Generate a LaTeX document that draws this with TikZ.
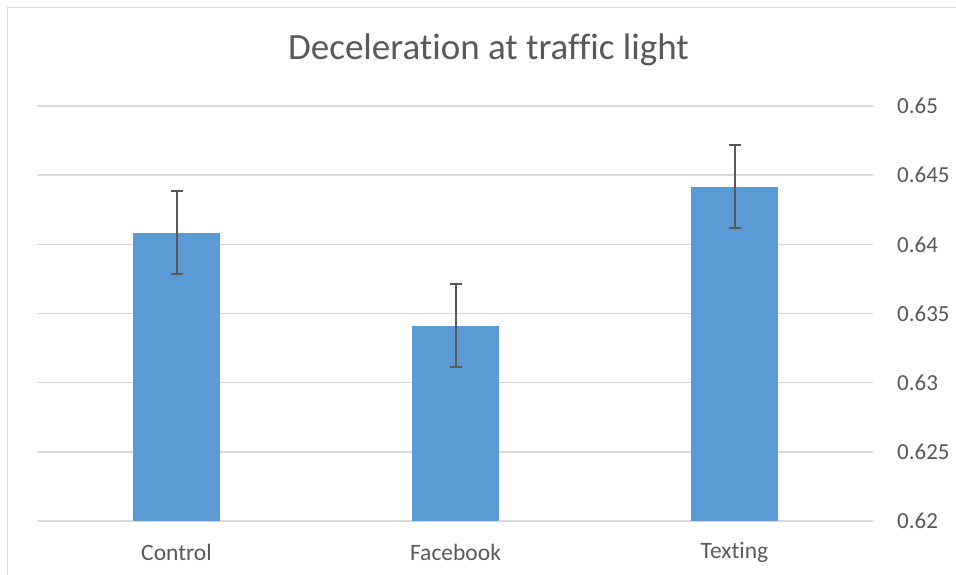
\documentclass[tikz,border=0pt]{standalone}
\usepackage{fontspec}
\setmainfont[Ligatures=CommonOff]{Carlito}
\definecolor{barblue}{HTML}{5B9BD5}
\definecolor{gridgray}{HTML}{D9D9D9}
\definecolor{txtgray}{HTML}{595959}
\tikzset{
  grid line/.style={draw=gridgray, line width=1.4pt},
  frame line/.style={draw=gridgray, line width=1.6pt},
  barbox/.style={fill=barblue, draw=none},
  errbar/.style={draw=txtgray, line width=2pt},
  ticklabel/.style={anchor=west, text=txtgray, font=\fontsize{23}{27}\selectfont, inner sep=0pt},
  catlabel/.style={anchor=center, text=txtgray, font=\fontsize{23.5}{27}\selectfont, inner sep=0pt},
  titlelabel/.style={anchor=center, text=txtgray, font=\fontsize{37}{44}\selectfont, inner sep=0pt}
}
\begin{document}
\begin{tikzpicture}[x=1pt,y=-1pt]
\useasboundingbox (0,0) rectangle (956,575);
\fill[white] (0,0) rectangle (956,575);
% frame
\draw[frame line] (7.5,575) -- (7.5,7.5) -- (956,7.5);
% gridlines and tick labels
\foreach \i/\lab in {0/0.65,1/0.645,2/0.64,3/0.635,4/0.63,5/0.625,6/0.62}{
  \pgfmathsetmacro{\yy}{106+\i*69.17}
  \draw[grid line] (37,\yy) -- (873,\yy);
  \node[ticklabel] (t\i) at (897,\yy) {\lab};
}
% title
\node[titlelabel] (title) at (488.5,50) {Deceleration at traffic light};
% bars
\foreach \name/\cx/\top/\lab in {control/176.5/232.5/Control, facebook/455.5/325.5/Facebook, texting/734.5/186.5/Texting}{
  \fill[barbox] (\cx-43.5,\top) rectangle (\cx+43.5,521);
  \coordinate (\name-hi) at (\cx,\top-41.5);
  \coordinate (\name-lo) at (\cx,\top+41.5);
  \draw[errbar] (\name-hi) -- (\name-lo);
  \draw[errbar] ([xshift=-6pt]\name-hi) -- ([xshift=6pt]\name-hi);
  \draw[errbar] ([xshift=-6pt]\name-lo) -- ([xshift=6pt]\name-lo);
  \node[catlabel] (\name-label) at (\cx,552) {\lab};
}
\end{tikzpicture}
\end{document}
